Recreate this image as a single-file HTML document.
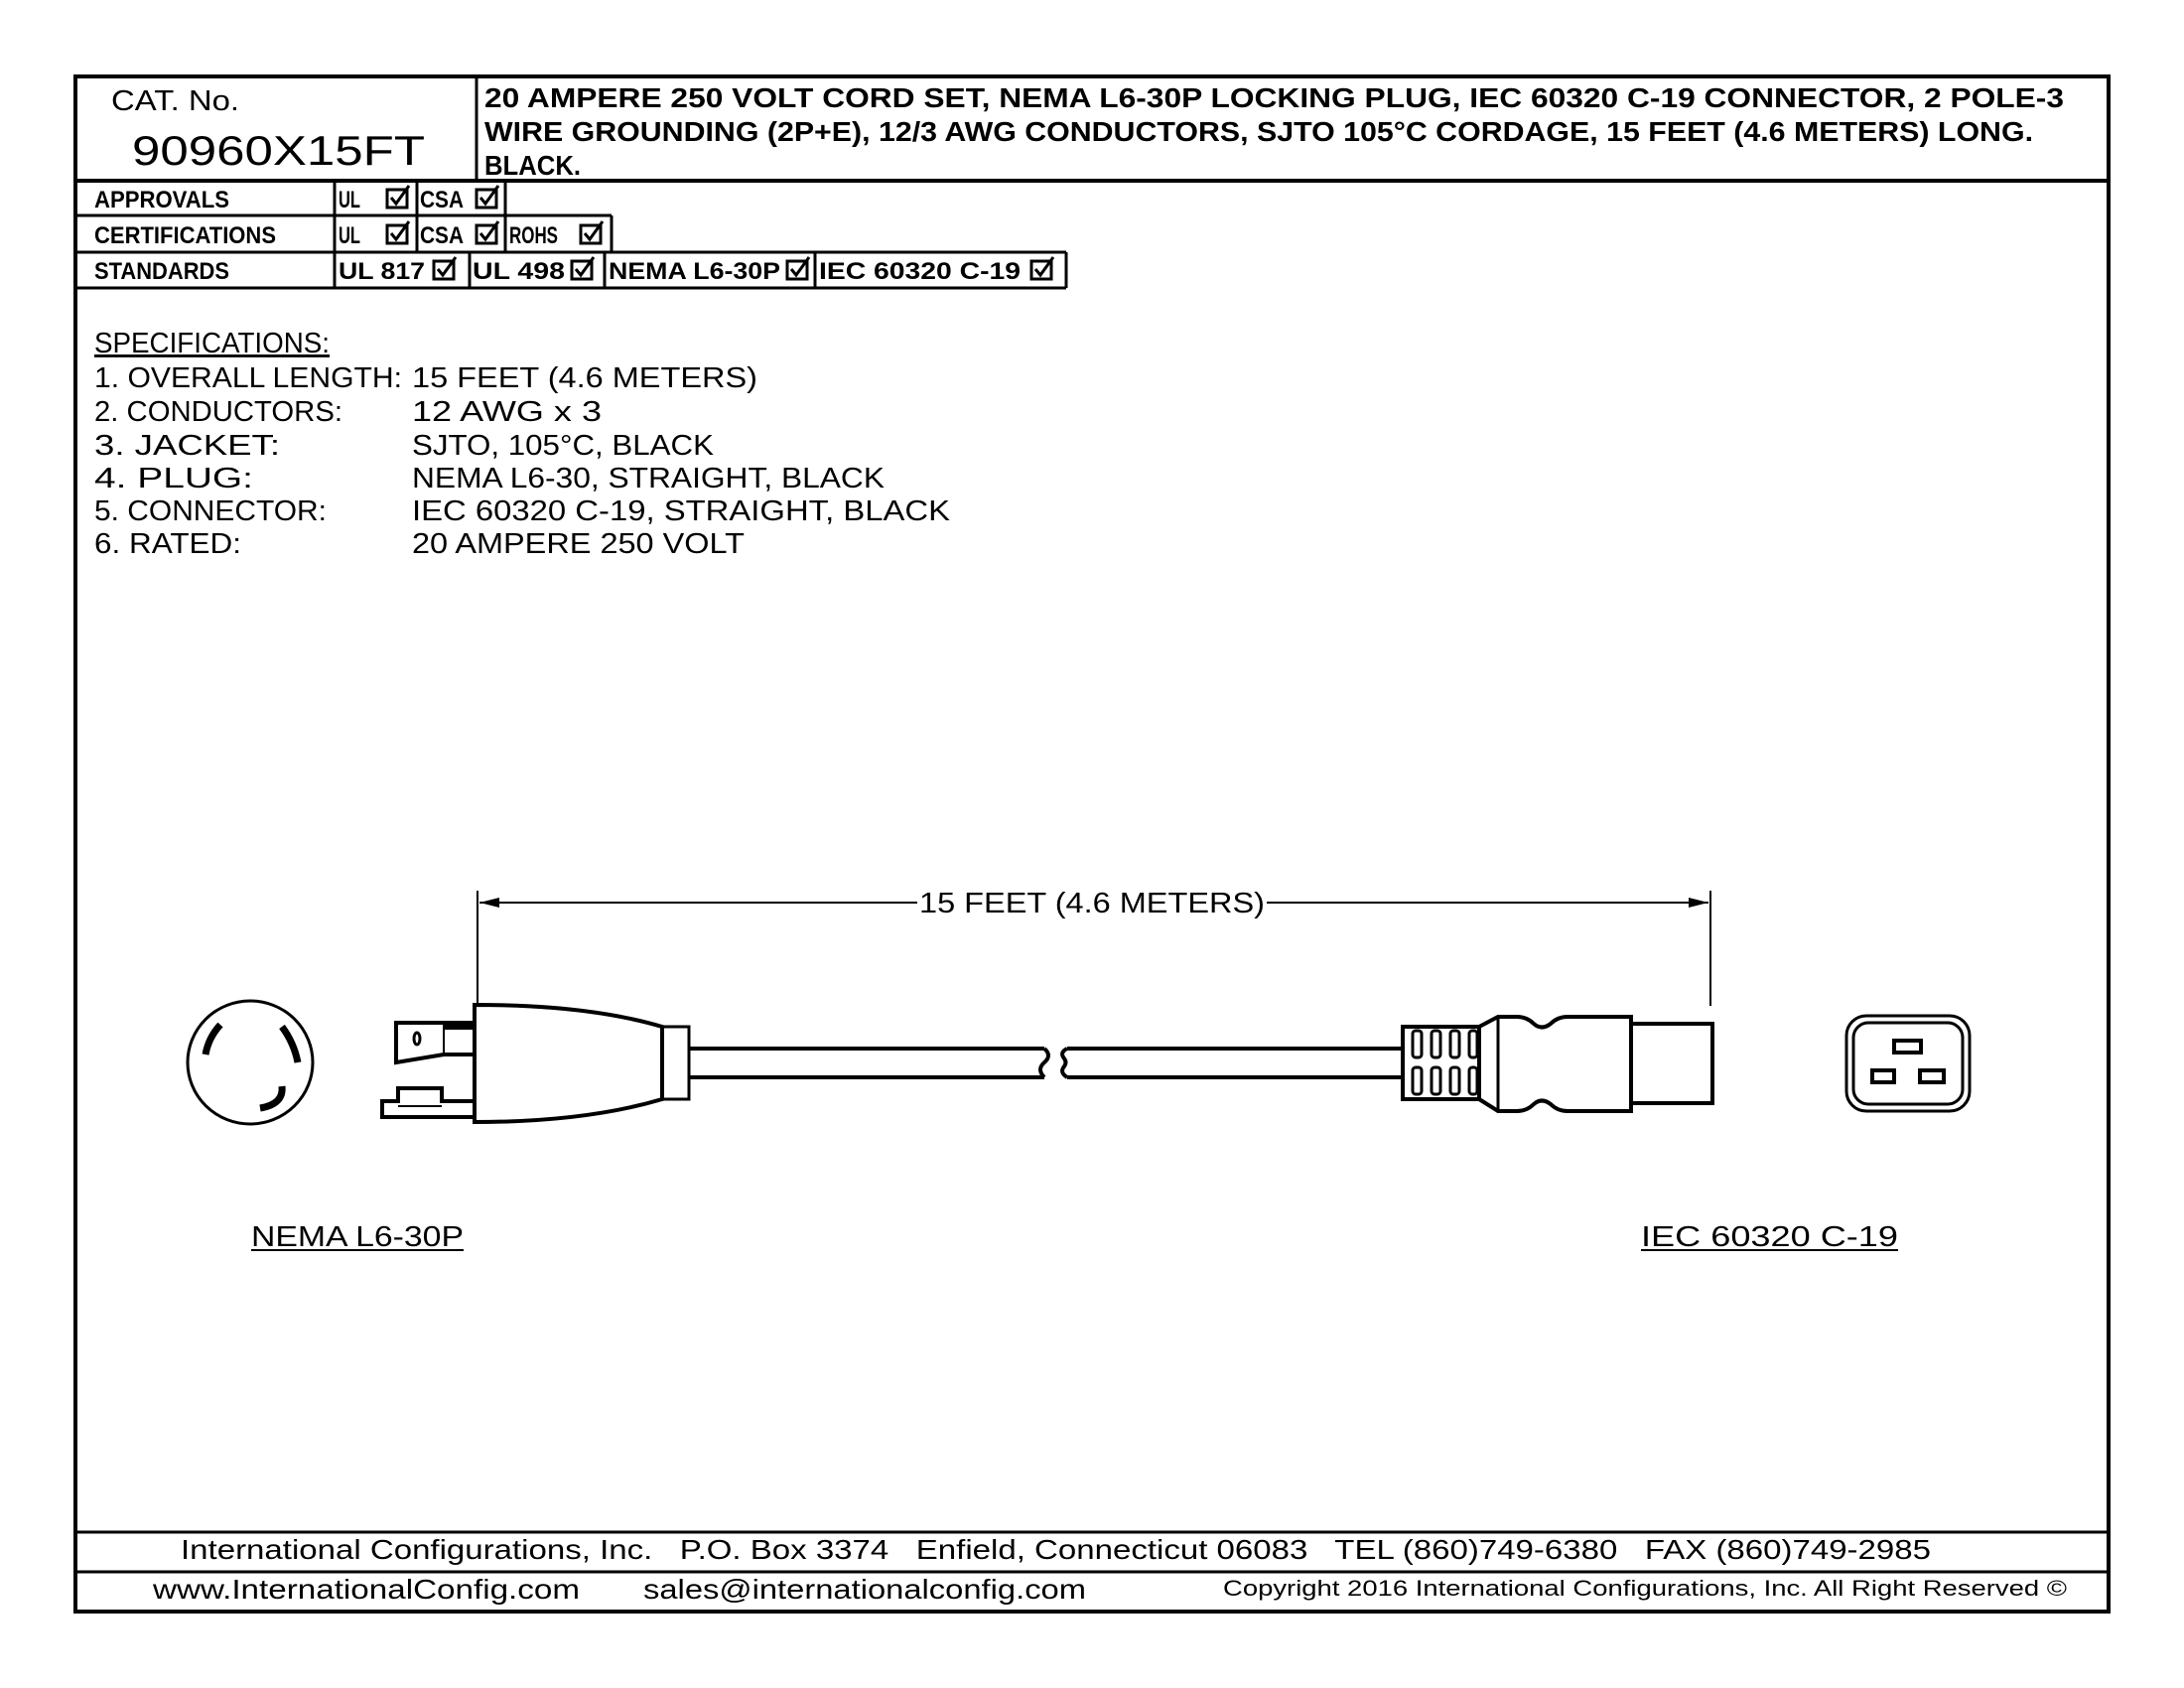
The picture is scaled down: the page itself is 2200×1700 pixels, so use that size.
<!DOCTYPE html>
<html><head><meta charset="utf-8"><style>
html,body{margin:0;padding:0;background:#fff;}
svg{display:block;}
text{font-family:"Liberation Sans",sans-serif;fill:#000;}
</style></head><body>
<svg width="2200" height="1700" viewBox="0 0 2200 1700" xmlns="http://www.w3.org/2000/svg">
<defs>
<g id="cb"><rect x="0" y="0" width="20" height="18" fill="none" stroke="#000" stroke-width="3"/><path d="M4,8 L9,14 L22,-4" fill="none" stroke="#000" stroke-width="3"/></g>
</defs>
<!-- outer border -->
<rect x="76" y="77" width="2048" height="1546" fill="none" stroke="#000" stroke-width="4"/>
<line x1="76" y1="182" x2="2124" y2="182" stroke="#000" stroke-width="4"/>
<line x1="480" y1="77" x2="480" y2="182" stroke="#000" stroke-width="3"/>
<text x="112" y="111" font-size="29" textLength="129" lengthAdjust="spacingAndGlyphs">CAT. No.</text>
<text x="133" y="166" font-size="42" textLength="295" lengthAdjust="spacingAndGlyphs">90960X15FT</text>
<g font-size="28" font-weight="bold">
<text x="488" y="108" textLength="1591" lengthAdjust="spacingAndGlyphs">20 AMPERE 250 VOLT CORD SET, NEMA L6-30P LOCKING PLUG, IEC 60320 C-19 CONNECTOR, 2 POLE-3</text>
<text x="488" y="142" textLength="1560" lengthAdjust="spacingAndGlyphs">WIRE GROUNDING (2P+E), 12/3 AWG CONDUCTORS, SJTO 105°C CORDAGE, 15 FEET (4.6 METERS) LONG.</text>
<text x="488" y="176" textLength="97" lengthAdjust="spacingAndGlyphs">BLACK.</text>
</g>
<!-- table -->
<g stroke="#000" stroke-width="3" fill="none">
<line x1="76" y1="217" x2="616" y2="217"/>
<line x1="76" y1="254" x2="1074" y2="254"/>
<line x1="76" y1="290" x2="1074" y2="290"/>
<line x1="337" y1="182" x2="337" y2="290"/>
<line x1="420" y1="182" x2="420" y2="254"/>
<line x1="509" y1="182" x2="509" y2="254"/>
<line x1="616" y1="217" x2="616" y2="254"/>
<line x1="473" y1="254" x2="473" y2="290"/>
<line x1="609" y1="254" x2="609" y2="290"/>
<line x1="821" y1="254" x2="821" y2="290"/>
<line x1="1074" y1="254" x2="1074" y2="290"/>
</g>
<g font-size="24" font-weight="bold">
<text x="95" y="209" textLength="136" lengthAdjust="spacingAndGlyphs">APPROVALS</text>
<text x="95" y="245" textLength="183" lengthAdjust="spacingAndGlyphs">CERTIFICATIONS</text>
<text x="95" y="281" textLength="136" lengthAdjust="spacingAndGlyphs">STANDARDS</text>
<text x="341" y="209" textLength="22" lengthAdjust="spacingAndGlyphs">UL</text>
<text x="423" y="209" textLength="44" lengthAdjust="spacingAndGlyphs">CSA</text>
<text x="341" y="245" textLength="22" lengthAdjust="spacingAndGlyphs">UL</text>
<text x="423" y="245" textLength="44" lengthAdjust="spacingAndGlyphs">CSA</text>
<text x="513" y="245" textLength="49" lengthAdjust="spacingAndGlyphs">ROHS</text>
<text x="341" y="281" textLength="87" lengthAdjust="spacingAndGlyphs">UL 817</text>
<text x="476" y="281" textLength="93" lengthAdjust="spacingAndGlyphs">UL 498</text>
<text x="613" y="281" textLength="173" lengthAdjust="spacingAndGlyphs">NEMA L6-30P</text>
<text x="825" y="281" textLength="203" lengthAdjust="spacingAndGlyphs">IEC 60320 C-19</text>
</g>
<use href="#cb" x="390" y="191"/><use href="#cb" x="480" y="191"/>
<use href="#cb" x="390" y="227"/><use href="#cb" x="480" y="227"/><use href="#cb" x="585" y="227"/>
<use href="#cb" x="437" y="263"/><use href="#cb" x="576" y="263"/><use href="#cb" x="793" y="263"/><use href="#cb" x="1039" y="263"/>
<!-- specs -->
<g font-size="29">
<text x="95" y="355" textLength="237" lengthAdjust="spacingAndGlyphs" text-decoration="underline">SPECIFICATIONS:</text>
<line x1="95" y1="358" x2="332" y2="358" stroke="#000" stroke-width="2"/>
<text x="95" y="390" textLength="310" lengthAdjust="spacingAndGlyphs">1. OVERALL LENGTH:</text>
<text x="95" y="424" textLength="250" lengthAdjust="spacingAndGlyphs">2. CONDUCTORS:</text>
<text x="95" y="458" textLength="187" lengthAdjust="spacingAndGlyphs">3. JACKET:</text>
<text x="95" y="491" textLength="160" lengthAdjust="spacingAndGlyphs">4. PLUG:</text>
<text x="95" y="524" textLength="234" lengthAdjust="spacingAndGlyphs">5. CONNECTOR:</text>
<text x="95" y="557" textLength="148" lengthAdjust="spacingAndGlyphs">6. RATED:</text>
<text x="415" y="390" textLength="348" lengthAdjust="spacingAndGlyphs">15 FEET (4.6 METERS)</text>
<text x="415" y="424" textLength="191" lengthAdjust="spacingAndGlyphs">12 AWG x 3</text>
<text x="415" y="458" textLength="304" lengthAdjust="spacingAndGlyphs">SJTO, 105°C, BLACK</text>
<text x="415" y="491" textLength="476" lengthAdjust="spacingAndGlyphs">NEMA L6-30, STRAIGHT, BLACK</text>
<text x="415" y="524" textLength="542" lengthAdjust="spacingAndGlyphs">IEC 60320 C-19, STRAIGHT, BLACK</text>
<text x="415" y="557" textLength="335" lengthAdjust="spacingAndGlyphs">20 AMPERE 250 VOLT</text>
</g>
<!-- dimension -->
<g stroke="#000" stroke-width="2" fill="none">
<line x1="481" y1="897" x2="481" y2="1013"/>
<line x1="1723" y1="897" x2="1723" y2="1013"/>
<line x1="483" y1="909" x2="924" y2="909"/>
<line x1="1276" y1="909" x2="1721" y2="909"/>
</g>
<path d="M483,909 L503,904 L503,914 Z"/>
<path d="M1721,909 L1701,904 L1701,914 Z"/>
<text x="926" y="919" font-size="29" textLength="348" lengthAdjust="spacingAndGlyphs">15 FEET (4.6 METERS)</text>
<!-- plug face -->
<g stroke="#000" fill="none">
<ellipse cx="252" cy="1070" rx="63" ry="62" stroke-width="3"/>
<path d="M222,1032 Q210,1045 207,1062" stroke-width="7"/>
<path d="M284,1034 Q296,1050 300,1070" stroke-width="7"/>
<path d="M284,1094 Q286,1112 262,1116" stroke-width="7"/>
</g>
<!-- plug body -->
<g stroke="#000" stroke-width="3" fill="none">
<path d="M478,1012 C560,1012 620,1020 667,1034 L667,1107 C620,1121 560,1130 478,1130 Z" stroke-width="4"/>
<rect x="667" y="1034" width="27" height="73"/>
<path d="M478,1030 L399,1030 L399,1070 L447,1062 L478,1062" stroke-width="4"/>
<line x1="447" y1="1034" x2="478" y2="1034" stroke-width="6"/>
<line x1="447" y1="1030" x2="447" y2="1062" stroke-width="2"/>
<ellipse cx="420" cy="1046" rx="3" ry="6" stroke-width="3"/>
<path d="M478,1125 L385,1125 L385,1109 L401,1109 L401,1096 L445,1096 L445,1109 L478,1109" stroke-width="4"/>
<line x1="401" y1="1114" x2="445" y2="1114" stroke-width="2"/>
<!-- cord -->
<line x1="694" y1="1056" x2="1052" y2="1056" stroke-width="4"/>
<line x1="694" y1="1085" x2="1052" y2="1085" stroke-width="4"/>
<path d="M1052,1056 Q1060,1063 1052,1070 Q1044,1077 1052,1085" stroke-width="4"/>
<path d="M1075,1056 Q1067,1060 1072,1066 Q1075,1070 1072,1074 Q1067,1080 1075,1085" stroke-width="4"/>
<line x1="1075" y1="1056" x2="1413" y2="1056" stroke-width="4"/>
<line x1="1075" y1="1085" x2="1413" y2="1085" stroke-width="4"/>
<!-- connector -->
<rect x="1413" y="1034" width="77" height="73" stroke-width="4"/>
<path d="M1490,1034 L1509,1024 L1528,1024 Q1538,1024 1545,1031 Q1553,1038 1562,1031 Q1569,1024 1579,1024 L1643,1024 L1643,1119 L1579,1119 Q1569,1119 1562,1112 Q1553,1105 1545,1112 Q1538,1119 1528,1119 L1509,1119 L1490,1107" stroke-width="4"/>
<line x1="1509" y1="1024" x2="1509" y2="1119" stroke-width="3"/>
<rect x="1643" y="1031" width="82" height="80" stroke-width="4"/>
<g stroke-width="3">
<rect x="1423" y="1038" width="9" height="27" rx="3"/><rect x="1442" y="1038" width="9" height="27" rx="3"/><rect x="1461" y="1038" width="9" height="27" rx="3"/><rect x="1480" y="1038" width="8" height="27" rx="3"/>
<rect x="1423" y="1075" width="9" height="27" rx="3"/><rect x="1442" y="1075" width="9" height="27" rx="3"/><rect x="1461" y="1075" width="9" height="27" rx="3"/><rect x="1480" y="1075" width="8" height="27" rx="3"/>
</g>
<!-- C19 face -->
<rect x="1860" y="1023" width="124" height="96" rx="20" stroke-width="3"/>
<rect x="1867" y="1030" width="110" height="82" rx="15" stroke-width="3"/>
<rect x="1908" y="1048" width="27" height="12" stroke-width="4"/>
<rect x="1886" y="1078" width="22" height="12" stroke-width="4"/>
<rect x="1934" y="1078" width="24" height="12" stroke-width="4"/>
</g>
<!-- labels -->
<text x="253" y="1255" font-size="29" textLength="214" lengthAdjust="spacingAndGlyphs">NEMA L6-30P</text>
<line x1="253" y1="1259" x2="467" y2="1259" stroke="#000" stroke-width="2"/>
<text x="1653" y="1255" font-size="29" textLength="259" lengthAdjust="spacingAndGlyphs">IEC 60320 C-19</text>
<line x1="1653" y1="1259" x2="1912" y2="1259" stroke="#000" stroke-width="2"/>
<!-- footer -->
<line x1="76" y1="1543" x2="2124" y2="1543" stroke="#000" stroke-width="3"/>
<line x1="76" y1="1583" x2="2124" y2="1583" stroke="#000" stroke-width="3"/>
<text x="182" y="1570" font-size="28" textLength="1763" lengthAdjust="spacingAndGlyphs" xml:space="preserve">International Configurations, Inc.   P.O. Box 3374   Enfield, Connecticut 06083   TEL (860)749-6380   FAX (860)749-2985</text>
<text x="154" y="1610" font-size="28" textLength="430" lengthAdjust="spacingAndGlyphs">www.InternationalConfig.com</text>
<text x="648" y="1610" font-size="28" textLength="446" lengthAdjust="spacingAndGlyphs">sales@internationalconfig.com</text>
<text x="1232" y="1607" font-size="22" textLength="850" lengthAdjust="spacingAndGlyphs">Copyright 2016 International Configurations, Inc. All Right Reserved ©</text>
</svg>
</body></html>
